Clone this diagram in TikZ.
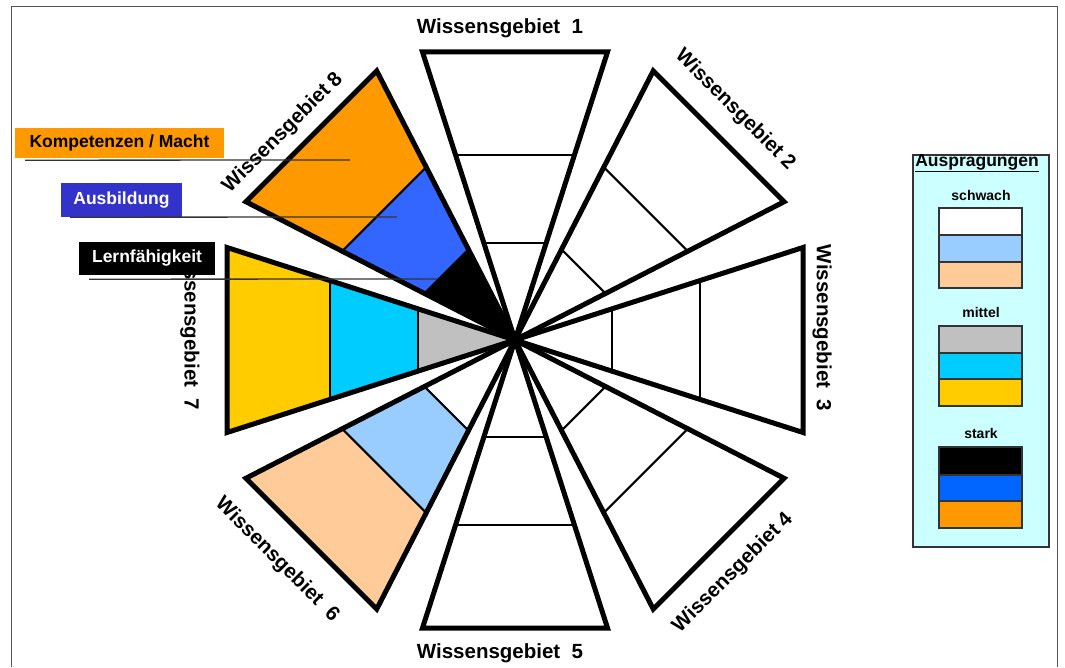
\documentclass[tikz,border=0pt]{standalone}
\usepackage{fontspec}
\setmainfont{Liberation Sans}
\definecolor{framegray}{HTML}{555555}
\definecolor{strongorange}{HTML}{FF9900}
\definecolor{strongblue}{HTML}{3366FF}
\definecolor{legendblue}{HTML}{0066FF}
\definecolor{midyellow}{HTML}{FFCC00}
\definecolor{midcyan}{HTML}{00CCFF}
\definecolor{midgray}{HTML}{C0C0C0}
\definecolor{weakpeach}{HTML}{FFCC99}
\definecolor{weakblue}{HTML}{99CCFF}
\definecolor{tagblue}{HTML}{3333CC}
\definecolor{legendbg}{HTML}{CCFFFF}
\definecolor{legendline}{HTML}{333333}

% one knowledge wedge: angle, outer fill, middle fill, inner fill
\newcommand\knowledgewedge[4]{%
  \begin{scope}[shift={(515,327)}, rotate=#1]
    \fill[#4] (0,0) -- (97,31.2) -- (97,-31.2) -- cycle;
    \fill[#3] (97,31.2) -- (185,59.4) -- (185,-59.4) -- (97,-31.2) -- cycle;
    \fill[#2] (185,59.4) -- (288,92.5) -- (288,-92.5) -- (185,-59.4) -- cycle;
    \draw[divline] (97,31.2) -- (97,-31.2) (185,59.4) -- (185,-59.4);
    \draw[wedgeline] (0,0) -- (288,92.5) -- (288,-92.5) -- cycle;
  \end{scope}}

\begin{document}
\begin{tikzpicture}[x=1pt, y=1pt,
  wedgeline/.style={line width=5pt, line join=miter, miter limit=12},
  divline/.style={line width=2.2pt},
  wglabel/.style={font=\bfseries\fontsize{20.5}{24}\selectfont, inner sep=0pt},
  tagbox/.style={font=\bfseries\fontsize{17.5}{20}\selectfont, inner sep=0pt},
  leader/.style={draw=legendline, line width=1.3pt},
  legendtext/.style={font=\bfseries\fontsize{14}{16}\selectfont, inner sep=0pt},
  swatch/.style={draw=legendline, line width=1.2pt}]

\useasboundingbox (0,0) rectangle (1065,667);
\fill[white] (0,0) rectangle (1065,667);

% page frame
\draw[framegray, line width=1pt] (11,0) -- (11,660) -- (1057,660) -- (1057,0);

% the eight knowledge wedges
\knowledgewedge{90}{white}{white}{white}
\knowledgewedge{45}{white}{white}{white}
\knowledgewedge{0}{white}{white}{white}
\knowledgewedge{-45}{white}{white}{white}
\knowledgewedge{-90}{white}{white}{white}
\knowledgewedge{-135}{weakpeach}{weakblue}{white}
\knowledgewedge{180}{midyellow}{midcyan}{midgray}
\knowledgewedge{135}{strongorange}{strongblue}{black}

% wedge labels
\node[wglabel] (wg1) at (500,639) {Wissensgebiet\ \ 1};
\node[wglabel, rotate=-45] (wg2) at (735,557) {Wissensgebiet 2};
\node[wglabel, rotate=-90] (wg3) at (822,339) {Wissensgebiet\ \ 3};
\node[wglabel, rotate=45] (wg4) at (733,94) {Wissensgebiet 4};
\node[wglabel] (wg5) at (500,14) {Wissensgebiet\ \ 5};
\node[wglabel, rotate=-45] (wg6) at (277,107) {Wissensgebiet\ \ 6};
\node[wglabel, rotate=-90] (wg7) at (190,340) {Wissensgebiet\ \ 7};
\node[wglabel, rotate=45] (wg8) at (283,534) {Wissensgebiet 8};

% dimension tags with leader lines
\node[tagbox, fill=strongorange, text=black, minimum width=209pt, minimum height=30pt] (km) at (119.5,524) {Kompetenzen / Macht};
\node[tagbox, fill=tagblue, text=white, minimum width=121pt, minimum height=34pt] (ab) at (121.5,467) {Ausbildung};
\node[tagbox, fill=black, text=white, minimum width=136pt, minimum height=33pt] (lf) at (147,408.5) {Lernfähigkeit};

\coordinate (kmEnd) at (350,507);
\coordinate (abEnd) at (397,450);
\coordinate (lfEnd) at (437,388);
\draw[leader] (km.south west -| 25,0) ++(0,-2) -- (kmEnd);
\draw[leader] (ab.south west -| 70,0) -- (abEnd);
\draw[leader] (lf.south west -| 89,0) ++(0,-4) -- (lfEnd);

% legend
\draw[legendline, fill=legendbg, line width=1.2pt] (913,120) rectangle (1049,512);
\node[font=\bfseries\fontsize{17.5}{20}\selectfont, inner sep=0pt] (lgtitle) at (977,504) {\underline{Auspragungen}};

\node[legendtext] (lgweak) at (981,472) {schwach};
\fill[white] (939,432) rectangle (1022,459);
\fill[weakblue] (939,405) rectangle (1022,432);
\fill[weakpeach] (939,379) rectangle (1022,405);
\draw[swatch] (939,379) rectangle (1022,459) (939,432) -- (1022,432) (939,405) -- (1022,405);

\node[legendtext] (lgmid) at (981,355) {mittel};
\fill[midgray] (939,314) rectangle (1022,341);
\fill[midcyan] (939,288) rectangle (1022,314);
\fill[midyellow] (939,261) rectangle (1022,288);
\draw[swatch] (939,261) rectangle (1022,341) (939,314) -- (1022,314) (939,288) -- (1022,288);

\node[legendtext] (lgstrong) at (981,234) {stark};
\fill[black] (939,192) rectangle (1022,220);
\fill[legendblue] (939,166) rectangle (1022,192);
\fill[strongorange] (939,139) rectangle (1022,166);
\draw[swatch] (939,139) rectangle (1022,220) (939,192) -- (1022,192) (939,166) -- (1022,166);

\end{tikzpicture}
\end{document}
